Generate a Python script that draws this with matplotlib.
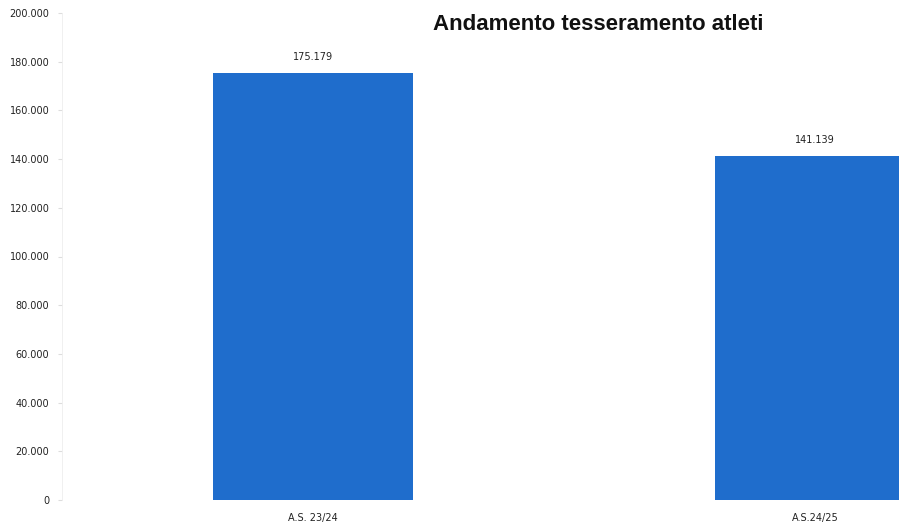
import matplotlib.pyplot as plt
from matplotlib.ticker import FuncFormatter

# data
stagioni = ["A.S. 23/24", "A.S.24/25"]
atleti = [175179, 141139]
y_ticks = [0, 20000, 40000, 60000, 80000, 100000, 120000, 140000, 160000, 180000, 200000]


def fmt_it(v, pos=None):
    # italian thousands separator
    return "{:,.0f}".format(v).replace(",", ".")


fig = plt.figure(figsize=(8.99, 5.26), dpi=100)
ax = fig.add_axes([62 / 899, 26 / 526, 837 / 899, 487 / 526])

x = list(range(len(stagioni)))
bars = ax.bar(x, atleti, width=0.4, color="#1f6dcc")

for b, v in zip(bars, atleti):
    ax.text(b.get_x() + b.get_width() / 2, v + 4500, fmt_it(v),
            ha="center", va="bottom", fontsize=7, color="#222222")

ax.set_xlim(-0.5, 1.167)
ax.set_ylim(0, 200000)
ax.set_yticks(y_ticks)
ax.yaxis.set_major_formatter(FuncFormatter(fmt_it))
ax.set_xticks(x)
ax.set_xticklabels(stagioni)

ax.tick_params(axis="y", labelsize=7, colors="#dddddd", labelcolor="#222222",
               length=3, pad=6)
ax.tick_params(axis="x", labelsize=7, labelcolor="#222222", length=0, pad=9)
for s in ["top", "right", "bottom"]:
    ax.spines[s].set_visible(False)
ax.spines["left"].set_color("#eeeeee")
ax.spines["left"].set_linewidth(0.6)

fig.text(598 / 899, 1 - 25 / 526, "Andamento tesseramento atleti",
         ha="center", va="center", fontsize=16, fontweight="bold",
         family="Liberation Sans", color="#111111")

fig.savefig("out.png", dpi=100)
